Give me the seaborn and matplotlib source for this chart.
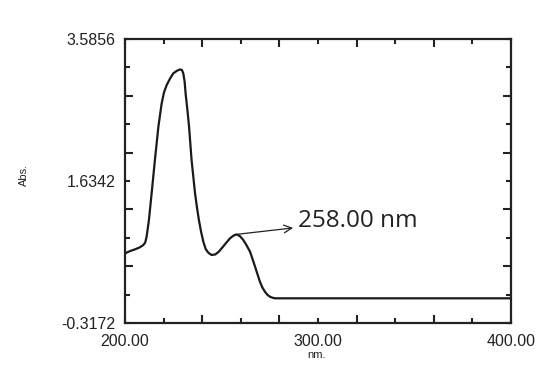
import matplotlib
matplotlib.use("Agg")
import matplotlib.pyplot as plt
import matplotlib.ticker as mticker
import numpy as np
import pandas as pd
import seaborn as sns

# Spectrum values
wavelength = [200.0, 202.5, 205.2, 207.5, 209.5, 210.5, 211.2, 212.4, 213.8, 215.5, 217.3,
              219.0, 220.2, 221.6, 223.3, 225.0, 227.0, 228.5, 229.5, 230.2, 230.9, 231.4,
              232.3, 233.2, 234.5, 236.3, 237.3, 238.3, 239.4, 240.6, 241.8, 243.2, 244.9,
              246.8, 248.5, 250.1, 252.3, 254.4, 256.3, 257.9, 259.6, 261.3, 263.0, 264.8,
              266.1, 267.4, 268.7, 269.9, 271.2, 272.5, 273.8, 275.1, 276.4, 277.7,
              300.0, 350.0, 400.0]
absorbance = [0.64, 0.67, 0.695, 0.72, 0.754, 0.79, 0.868, 1.097, 1.464, 1.922, 2.379,
              2.70, 2.85, 2.952, 3.04, 3.113, 3.15, 3.167, 3.16, 3.113, 3.00, 2.838,
              2.62, 2.379, 1.922, 1.464, 1.27, 1.097, 0.94, 0.80, 0.70, 0.648, 0.617,
              0.625, 0.66, 0.709, 0.78, 0.846, 0.885, 0.901, 0.875, 0.823, 0.75, 0.662,
              0.56, 0.456, 0.35, 0.250, 0.17, 0.113, 0.07, 0.044, 0.03, 0.022,
              0.022, 0.022, 0.022]

y_min, y_max = -0.3172, 3.5856
y_labels = ["-0.3172", "1.6342", "3.5856"]
x_min, x_max = 200.0, 400.0
x_labels = ["200.00", "300.00", "400.00"]
peak_label = "258.00 nm"
peak_x, peak_y = 257.9, 0.901

df = pd.DataFrame({"nm": wavelength, "Abs": absorbance})

sns.set_style("white")
fig = plt.figure(figsize=(5.42, 3.65), dpi=100)
ax = fig.add_axes([0.2306, 0.1151, 0.7122, 0.7781])

sns.lineplot(data=df, x="nm", y="Abs", ax=ax, color="#1a1a1a", linewidth=1.6)

ax.set_xlim(x_min, x_max)
ax.set_ylim(y_min, y_max)

# ticks: 10 divisions each axis
ystep = (y_max - y_min) / 10
y_major = [y_min + k * ystep for k in (0, 1, 3, 5, 7, 9, 10)]
y_minor = [y_min + k * ystep for k in (2, 4, 6, 8)]
x_major = [200, 220, 260, 300, 340, 380, 400]
x_minor = [240, 280, 320, 360]

ax.yaxis.set_major_locator(mticker.FixedLocator(y_major))
ax.yaxis.set_minor_locator(mticker.FixedLocator(y_minor))
ax.xaxis.set_major_locator(mticker.FixedLocator(x_major))
ax.xaxis.set_minor_locator(mticker.FixedLocator(x_minor))

ylab_map = {0: y_labels[0], 3: y_labels[1], 6: y_labels[2]}
ax.yaxis.set_major_formatter(mticker.FixedFormatter(
    [ylab_map.get(i, "") for i in range(len(y_major))]))
xlab_map = {0: x_labels[0], 3: x_labels[1], 6: x_labels[2]}
ax.xaxis.set_major_formatter(mticker.FixedFormatter(
    [xlab_map.get(i, "") for i in range(len(x_major))]))

ax.tick_params(which="major", direction="in", length=3.5, width=1.5, color="#222222",
               top=True, right=True, bottom=True, left=True,
               labelsize=11.5, labelcolor="#222222")
ax.tick_params(which="minor", direction="in", length=6, width=1.5, color="#222222",
               top=True, right=True, bottom=True, left=True)
ax.tick_params(axis="y", which="major", pad=7)
ax.tick_params(axis="x", which="major", pad=8)

for lbl in ax.get_xticklabels() + ax.get_yticklabels():
    lbl.set_family("Liberation Sans")

for sp in ax.spines.values():
    sp.set_visible(True)
    sp.set_linewidth(1.6)
    sp.set_color("#222222")

ax.set_xlabel("nm.", fontsize=8, family="Liberation Sans", color="#222222")
ax.xaxis.set_label_coords(0.495, -0.095)
ax.set_ylabel("Abs.", fontsize=8, family="Liberation Sans", color="#222222")
ax.yaxis.set_label_coords(-0.262, 0.52)
ax.yaxis.label.set_va("center")

ax.annotate(peak_label, xy=(peak_x, peak_y), xytext=(289.5, 1.09),
            textcoords="data", fontsize=17.5, family="Open Sans", color="#222222",
            va="center", ha="left",
            arrowprops=dict(arrowstyle="<-", color="#222222", lw=0.9,
                            shrinkA=1, shrinkB=1, mutation_scale=14))

fig.savefig("out.png", dpi=100)
